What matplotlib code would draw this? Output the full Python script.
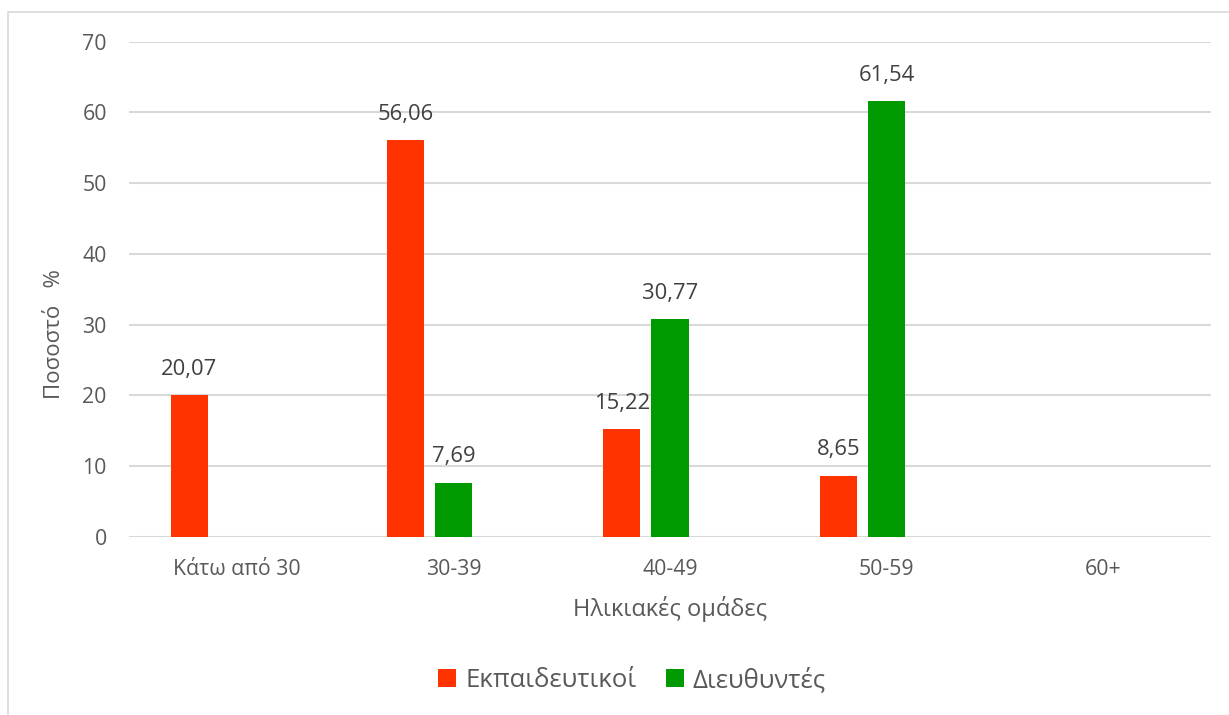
import matplotlib
matplotlib.use("Agg")
import matplotlib.pyplot as plt
from matplotlib.patches import Rectangle
import numpy as np

plt.rcParams['font.family'] = ['Open Sans', 'DejaVu Sans']

categories = ["Κάτω από 30", "30-39", "40-49", "50-59", "60+"]
teachers = [20.07, 56.06, 15.22, 8.65, None]
principals = [None, 7.69, 30.77, 61.54, None]
series_names = ["Εκπαιδευτικοί", "Διευθυντές"]
y_ticks = [0, 10, 20, 30, 40, 50, 60, 70]

RED = "#FF3300"
GREEN = "#009900"
TICK_GREY = "#595959"
LABEL_GREY = "#404040"
GRID_GREY = "#D9D9D9"

W, H = 1229, 715
fig = plt.figure(figsize=(W / 100, H / 100), dpi=100)
fig.patch.set_facecolor("white")

# outer chart frame
fig.patches.append(Rectangle((8 / W, -0.05), 1.1, 1 - 12 / H + 0.05,
                             transform=fig.transFigure, fill=False,
                             edgecolor=GRID_GREY, linewidth=1.2))

ax = fig.add_axes([129 / W, 1 - 537 / H, (1211 - 129) / W, (537 - 41.5) / H])
x = np.arange(len(categories))
bw = 0.171
step = 0.222


def heights(vals):
    return [0 if v is None else v for v in vals]


b1 = ax.bar(x - step, heights(teachers), bw, color=RED, label=series_names[0], zorder=3)
b2 = ax.bar(x, heights(principals), bw, color=GREEN, label=series_names[1], zorder=3)

for bars, vals in ((b1, teachers), (b2, principals)):
    for rect, v in zip(bars, vals):
        if v is None:
            continue
        ax.annotate(f"{v:.2f}".replace(".", ","),
                    (rect.get_x() + rect.get_width() / 2, v),
                    xytext=(0, 11), textcoords="offset points",
                    ha="center", va="bottom", fontsize=15.8, color=LABEL_GREY)

ax.set_xlim(-0.5, len(categories) - 0.5)
ax.set_ylim(0, 70)
ax.set_yticks(y_ticks)
ax.set_xticks(x)
ax.set_xticklabels(categories)
ax.tick_params(axis="both", length=0, labelsize=15.3, labelcolor=TICK_GREY)
ax.tick_params(axis="y", pad=16)
ax.tick_params(axis="x", pad=16)
ax.grid(axis="y", color=GRID_GREY, linewidth=1.5, zorder=0)
for s in ax.spines.values():
    s.set_visible(False)

ax.set_xlabel("Ηλικιακές ομάδες", fontsize=17, color=TICK_GREY, labelpad=11)
fig.text(55 / W, 1 - 334 / H, "Ποσοστό   %", rotation=90, ha="center", va="center",
         fontsize=16, color=TICK_GREY)

leg = fig.legend(handles=[b1, b2], labels=series_names, loc="center",
                 bbox_to_anchor=(632 / W, 1 - 680 / H), ncol=2, frameon=False,
                 fontsize=18.5, handlelength=0.7, handleheight=0.7,
                 handletextpad=0.35, columnspacing=1.15)
for t in leg.get_texts():
    t.set_color(TICK_GREY)

fig.savefig("out.png", dpi=100)
